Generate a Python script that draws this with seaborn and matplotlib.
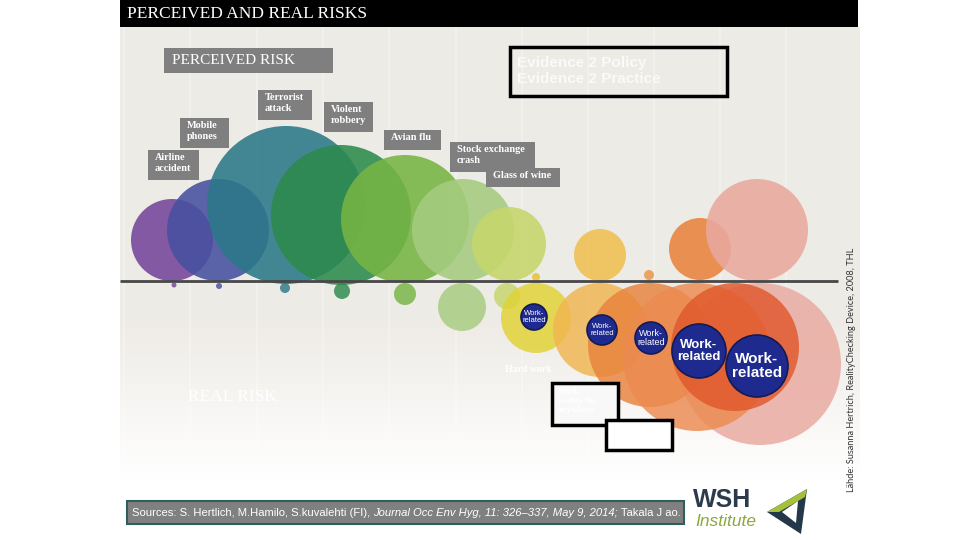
import numpy as np
import pandas as pd
import seaborn as sns
import matplotlib.pyplot as plt
from matplotlib.patches import Rectangle, Polygon

sns.set_theme(style="white")
plt.rcParams["font.family"] = ["Liberation Serif", "DejaVu Sans"]

# ---- data (pixel layout of the infographic) ----
perceived_names = ["Airline accident", "Mobile phones", "Terrorist attack", "Violent robbery",
                   "Avian flu", "Stock exchange crash", "Glass of wine", "Hard work",
                   "Dot yellow", "Dot orange", "Orange", "Pink"]
perceived_x = [172, 218, 286, 341, 405, 463, 509, 600, 536, 649, 700, 757]
perceived_y = [240, 230, 205, 215, 219, 230, 244, 255, 277, 275, 249, 230]
perceived_r = [41, 51, 79, 70, 64, 51, 37, 26, 4, 5, 31, 51]

real_names = ["Airline accident", "Mobile phones", "Terrorist attack", "Violent robbery",
              "Avian flu", "Stock exchange crash", "Glass of wine", "Yellow",
              "Pink", "Light orange", "Orange", "Orange 2", "Red"]
real_x = [174, 219, 285, 342, 405, 462, 507, 536, 760, 600, 650, 697, 735]
real_y = [285, 286, 288, 291, 294, 307, 296, 318, 364, 330, 345, 357, 347]
real_r = [2.5, 3, 5, 8, 11, 24, 13, 35, 81, 47, 62, 74, 64]

colors = {
    "Airline accident": "#75459a", "Mobile phones": "#46509f", "Terrorist attack": "#2b7888",
    "Violent robbery": "#2c8a4c", "Avian flu": "#76b543", "Stock exchange crash": "#a6cc7f",
    "Glass of wine": "#c6d66a", "Hard work": "#f0bf50", "Dot yellow": "#e8c23a",
    "Dot orange": "#e99a52", "Orange": "#e8823c", "Pink": "#e9a89e", "Yellow": "#e0d232",
    "Light orange": "#f0b550", "Orange 2": "#ec8a50", "Red": "#e0582c",
}

work_x = [534, 602, 651, 699, 757]
work_y = [317, 330, 338, 351, 366]
work_r = [13, 15, 16, 27, 31]
work_font = [5.5, 5.5, 6.5, 9.5, 11]

label_text = ["Terrorist\nattack", "Mobile\nphones", "Airline\naccident", "Violent\nrobbery",
              "Avian flu", "Stock exchange\ncrash", "Glass of wine"]
label_box = [(258, 90, 312, 120), (180, 118, 229, 148), (148, 150, 199, 180), (324, 102, 373, 132),
             (384, 130, 441, 150), (450, 142, 535, 172), (486, 168, 560, 187)]

grid_x = [124, 190, 257, 323, 389, 456, 522, 588, 654, 720, 786]

PT = 100 / 72.0  # pixels per point


def area(r):
    return (2 * np.asarray(r) / PT) ** 2


fig = plt.figure(figsize=(9.6, 5.4), dpi=100)
ax = fig.add_axes([0, 0, 1, 1])

# panel background: beige fading to white
rows = np.linspace(27, 490, 200)
fade = np.clip((rows - 320) / 160, 0, 1)[:, None]
beige = np.array([0.933, 0.922, 0.902])
grad = beige * (1 - fade) + np.array([1.0, 1.0, 1.0]) * fade
ax.imshow(np.repeat(grad[:, None, :], 2, axis=1), extent=(120, 860, 490, 27),
          aspect="auto", zorder=0, interpolation="bilinear")
ax.vlines(grid_x, 27, 470, colors="white", lw=1.2, alpha=0.3, zorder=1)

# bubbles
df_p = pd.DataFrame({"name": perceived_names, "x": perceived_x, "y": perceived_y, "r": perceived_r})
df_r = pd.DataFrame({"name": real_names, "x": real_x, "y": real_y, "r": real_r})
sns.scatterplot(data=df_p, x="x", y="y", hue="name", palette=colors, s=area(df_p["r"]),
                alpha=0.88, linewidth=0, legend=False, ax=ax, zorder=2)
sns.scatterplot(data=df_r, x="x", y="y", hue="name", palette=colors, s=area(df_r["r"]),
                alpha=0.82, linewidth=0, legend=False, ax=ax, zorder=2)
ax.hlines(281, 120, 838, color="#474747", lw=2, zorder=3)

df_w = pd.DataFrame({"x": work_x, "y": work_y, "r": work_r})
sns.scatterplot(data=df_w, x="x", y="y", s=area(df_w["r"]), color="#1f2a8e",
                edgecolor="#121a55", linewidth=1.2, legend=False, ax=ax, zorder=4)
for x, y, fs in zip(work_x, work_y, work_font):
    ax.text(x, y, "Work-\nrelated", ha="center", va="center", color="white", fontsize=fs,
            family="Liberation Sans", weight="bold" if fs > 9 else "normal",
            linespacing=1.0, zorder=5)

# gray label boxes
for txt, (x0, y0, x1, y1) in zip(label_text, label_box):
    ax.add_patch(Rectangle((x0, y0), x1 - x0, y1 - y0, fc="#7f7f7f", ec="none", zorder=6))
    ax.text(x0 + 7, y0 + 3, txt, ha="left", va="top", color="white", fontsize=7.4,
            weight="bold", linespacing=1.3, zorder=7)

# title bar
ax.add_patch(Rectangle((120, 0), 738, 27, fc="black", ec="none", zorder=6))
ax.text(127, 14, "PERCEIVED AND REAL RISKS", color="white", fontsize=12.5, va="center", zorder=7)

ax.add_patch(Rectangle((164, 48), 169, 25, fc="#7f7f7f", ec="none", zorder=6))
ax.text(172, 61, "PERCEIVED RISK", color="white", fontsize=11, va="center", zorder=7)

ax.add_patch(Rectangle((510, 47), 217, 49, fc="none", ec="black", lw=2.5, zorder=6))
ax.text(517, 71, "Evidence 2 Policy\nEvidence 2 Practice", color="#fbfaf8", fontsize=11,
        weight="bold", family="Liberation Sans", va="center", linespacing=1.1, zorder=7)

ax.text(188, 397, "REAL RISK", color="white", fontsize=12.5, va="center", zorder=7)
ax.text(505, 370, "Hard work", color="white", fontsize=7, weight="bold", va="center", zorder=7)

ax.add_patch(Rectangle((552, 383), 66, 42, fc="#f8f8f8", ec="black", lw=2.5, zorder=6))
ax.text(558, 388, "Work\nwithin the\nanywhere", color="white", fontsize=6.5, weight="bold",
        va="top", zorder=7)
ax.add_patch(Rectangle((606, 420), 66, 30, fc="white", ec="black", lw=2.5, zorder=6))

# sources box
ax.add_patch(Rectangle((127, 501), 557, 23, fc="#808080", ec="#2f5f5a", lw=1.5, zorder=6))
parts = [("Sources: S. Hertlich, M.Hamilo, S.kuvalehti (FI), ", "normal"),
         ("Journal Occ Env Hyg, 11: 326\u2013337, May 9, 2014;", "italic"),
         (" Takala J ao.", "normal")]
renderer = fig.canvas.get_renderer()
tx = 132
for txt, st in parts:
    t = ax.text(tx, 513, txt, color="white", fontsize=8.1, style=st, family="Liberation Sans",
                va="center", zorder=7)
    tx += t.get_window_extent(renderer).width

# logo
ax.text(693, 500, "WSH", color="#2b3b4c", fontsize=18, weight="bold", family="Liberation Sans",
        va="center", zorder=7)
ax.text(695, 522, "Institute", color="#8aa83b", fontsize=12.5, style="italic",
        family="Liberation Sans", va="center", zorder=7)
ax.add_patch(Polygon([(807, 489), (767, 512), (801, 534)], closed=True, fc="#25384a", ec="none", zorder=6))
ax.add_patch(Polygon([(807, 489), (767, 512), (779, 512), (805, 497)], closed=True, fc="#a6c03c",
                     ec="none", zorder=7))
ax.add_patch(Polygon([(798, 501), (782, 512), (796, 523)], closed=True, fc="white", ec="none", zorder=7))

ax.text(852, 370, "L\u00e4hde: Susanna Hertrich, RealityChecking Device, 2008, THL", rotation=90,
        color="#333333", fontsize=6.6, family=["Lato", "DejaVu Sans"], ha="center", va="center", zorder=7)

ax.set_xlim(0, 960)
ax.set_ylim(540, 0)
ax.axis("off")
fig.savefig("out.png", dpi=100)
